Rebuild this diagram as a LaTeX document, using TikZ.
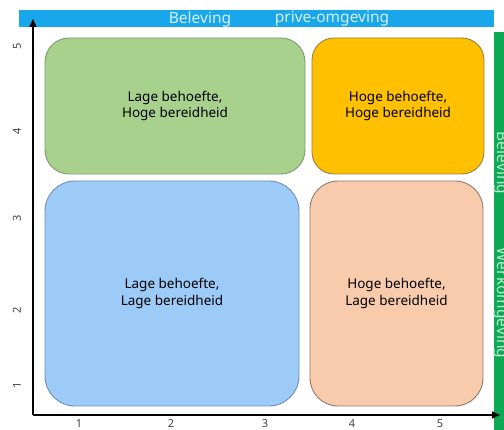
\documentclass[tikz,border=0pt]{standalone}
\usepackage{fontspec}
\setmainfont{Noto Sans}
\usetikzlibrary{arrows.meta}
\definecolor{barblue}{HTML}{17A7EA}
\definecolor{bartext}{HTML}{D8F0FC}
\definecolor{bargreen}{HTML}{0DAA55}
\definecolor{gbartext}{HTML}{BDEBCF}
\definecolor{boxgreen}{HTML}{A9D18E}
\definecolor{boxgreenb}{HTML}{7E9A70}
\definecolor{boxyellow}{HTML}{FFC000}
\definecolor{boxyellowb}{HTML}{9C8040}
\definecolor{boxblue}{HTML}{9DCBF8}
\definecolor{boxblueb}{HTML}{6F8FB8}
\definecolor{boxpeach}{HTML}{F8CBAD}
\definecolor{boxpeachb}{HTML}{8F7A70}
\definecolor{ticktext}{HTML}{444444}
\begin{document}
\begin{tikzpicture}[x=1pt,y=-1pt,
  quad/.style={draw, line width=0.9pt, inner sep=0pt, align=center,
    font=\fontsize{13.5}{16.5}\selectfont, text=black},
  tick/.style={font=\fontsize{11}{12}\selectfont\bfseries, text=ticktext, inner sep=0pt},
  bartxt/.style={font=\fontsize{15.5}{17}\selectfont, inner sep=0pt},
  axis/.style={line width=1.6pt, -{Triangle[length=8pt,width=7pt]}}]
\clip (0,0) rectangle (504,430);
\fill[white] (0,0) rectangle (504,430);
% top bar
\node[fill=barblue, minimum width=475pt, minimum height=17pt, inner sep=0pt, anchor=north west] (topbar) at (19,10) {};
\node[bartxt, text=bartext] (tb1) at (200,19) {Beleving};
\node[bartxt, text=bartext] (tb2) at (332,19) {prive-omgeving};
% right bar
\node[fill=bargreen, minimum width=22pt, minimum height=420pt, inner sep=0pt, anchor=north west] (rightbar) at (494,32) {};
\node[bartxt, text=gbartext, rotate=-90] (rb1) at (502,163) {Beleving};
\node[bartxt, text=gbartext, rotate=-90] (rb2) at (502,303) {Werkomgeving};
% quadrants
\node[quad, fill=boxgreen, draw=boxgreenb, rounded corners=24pt, minimum width=260pt, minimum height=136pt] (q1) at (175,106) {Lage behoefte,\\Hoge bereidheid};
\node[quad, fill=boxyellow, draw=boxyellowb, rounded corners=22pt, minimum width=172pt, minimum height=136pt] (q2) at (398,106) {Hoge behoefte,\\Hoge bereidheid};
\node[quad, fill=boxblue, draw=boxblueb, rounded corners=30pt, minimum width=254pt, minimum height=225pt] (q3) at (172,293.5) {Lage behoefte,\\Lage bereidheid};
\node[quad, fill=boxpeach, draw=boxpeachb, rounded corners=28pt, minimum width=173pt, minimum height=225pt] (q4) at (396.5,293.5) {Hoge behoefte,\\Lage bereidheid};
% axes
\coordinate (origin) at (33,415);
\coordinate (ytip) at (33,19);
\coordinate (xtip) at (500,415);
\draw[axis] (origin) -- (ytip);
\draw[axis] (origin) -- (xtip);
% ticks
\foreach \v/\yy in {1/385,2/310,3/218,4/131,5/46}
  \node[tick, rotate=90] (yt\v) at (17,\yy) {\v};
\foreach \v/\xx in {1/79,2/171,3/265,4/352,5/440}
  \node[tick] (xt\v) at (\xx,424) {\v};
\end{tikzpicture}
\end{document}
